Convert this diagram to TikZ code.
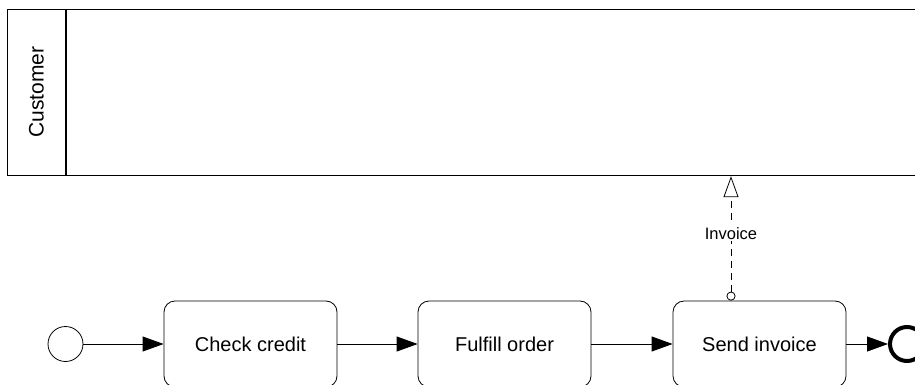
\documentclass[tikz,border=0pt]{standalone}
\usepackage{fontspec}
\setmainfont{Liberation Sans}
\usetikzlibrary{arrows.meta}

\begin{document}
\begin{tikzpicture}[x=1pt, y=-1pt,
    task/.style={draw, line width=0.8pt, rounded corners=11pt,
      minimum width=173pt, minimum height=86pt, font=\fontsize{20}{24}\selectfont},
    event/.style={draw, circle, line width=0.8pt, minimum size=35pt, inner sep=0pt},
    endevent/.style={draw, circle, line width=4pt, minimum size=34pt, inner sep=0pt},
    seqflow/.style={line width=0.8pt, -{Triangle[length=21pt, width=15pt]}},
    msgflow/.style={line width=0.8pt, dash pattern=on 7pt off 5pt,
      {Circle[open, length=9pt, width=9pt]}-{Triangle[open, length=21pt, width=15pt]}}]
  % page frame
  \clip (0,0) rectangle (915,385);

  % customer pool, open to the right
  \node[draw, line width=1.2pt, anchor=north west, minimum width=960pt,
        minimum height=166pt, inner sep=0pt] (pool) at (7,9) {};
  \draw[line width=1.2pt] (66,9) -- (66,175);
  \node[rotate=90, font=\fontsize{21}{25}\selectfont] (customer) at (36.5,92) {Customer};

  % process
  \node[event] (start) at (65.5,344) {};
  \node[task] (check) at (250.5,344) {Check credit};
  \node[task] (fulfill) at (504.5,344) {Fulfill order};
  \node[task] (send) at (759.5,344) {Send invoice};
  \node[endevent] (finish) at (907,344) {};

  \draw[seqflow] (start) -- (check);
  \draw[seqflow] (check) -- (fulfill);
  \draw[seqflow] (fulfill) -- (send);
  \draw[seqflow] (send) -- (finish);

  % invoice message to the customer
  \coordinate (msgx) at (731,0);
  \draw[msgflow] (send.north -| msgx) -- (pool.south -| msgx)
    node[pos=0.54, fill=white, inner sep=2pt, font=\fontsize{16.5}{19}\selectfont] (invoice) {Invoice};
\end{tikzpicture}
\end{document}
